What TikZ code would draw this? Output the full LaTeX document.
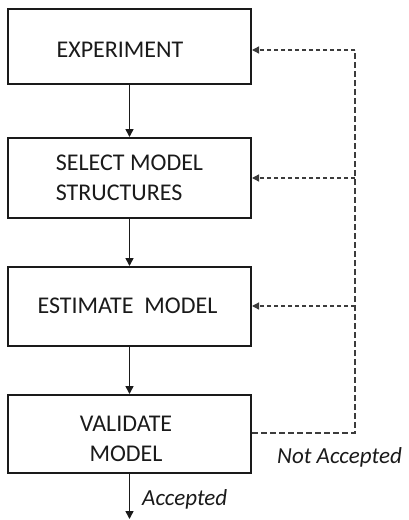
\documentclass[tikz,border=0pt]{standalone}
\usepackage{fontspec}
\setmainfont{Carlito}
\usetikzlibrary{arrows.meta}
\definecolor{ink}{HTML}{1A1A1A}
\tikzset{
  stagebox/.style={draw=ink, line width=2pt, minimum width=243pt, inner sep=0pt},
  lbl/.style={inner sep=0pt, text=ink, font=\fontsize{24}{30}\selectfont},
  flow/.style={draw=ink, line width=1.6pt, -{Triangle[length=8pt,width=8pt]}},
  fb/.style={draw=ink!85, line width=1.3pt, dash pattern=on 4pt off 3pt, -{Triangle[length=7pt,width=7pt]}},
  fbline/.style={draw=ink!85, line width=1.8pt, dash pattern=on 6pt off 3pt},
  note/.style={inner sep=0pt, text=ink, font=\fontsize{23}{28}\selectfont\itshape},
}
\begin{document}
\begin{tikzpicture}[x=1pt,y=-1pt]
\useasboundingbox (0,0) rectangle (408,520);
\node[stagebox, minimum height=75pt] (b1) at (129.5,46.5) {};
\node[stagebox, minimum height=80pt] (b2) at (129.5,178) {};
\node[stagebox, minimum height=79pt] (b3) at (129.5,306.5) {};
\node[stagebox, minimum height=78pt] (b4) at (129.5,434) {};
\node[lbl] (t1) at (120,49.5) {EXPERIMENT};
\node[lbl, align=left] (t2) at (129.5,178) {SELECT MODEL\\STRUCTURES};
\node[lbl] (t3) at (127.5,306) {ESTIMATE\ \ MODEL};
\node[lbl, align=center] (t4) at (126,439) {VALIDATE\\MODEL};
\coordinate (out) at (129.5,519);
\coordinate (c4) at (355,433);
\coordinate (c1) at (355,50);
\coordinate (c2) at (355,178);
\coordinate (c3) at (355,306);
\draw[flow] (b1.south) -- (b2.north);
\draw[flow] (b2.south) -- (b3.north);
\draw[flow] (b3.south) -- (b4.north);
\draw[flow] (b4.south) -- (out);
\draw[fbline] (b4.east |- c4) -- (c4) -- (c1);
\draw[fb] (c1) -- (b1.east |- c1);
\draw[fb] (c2) -- (b2.east |- c2);
\draw[fb] (c3) -- (b3.east |- c3);
\node[note, anchor=west] (na) at (277,457) {Not Accepted};
\node[note, anchor=west] (ac) at (142,499) {Accepted};
\end{tikzpicture}
\end{document}
